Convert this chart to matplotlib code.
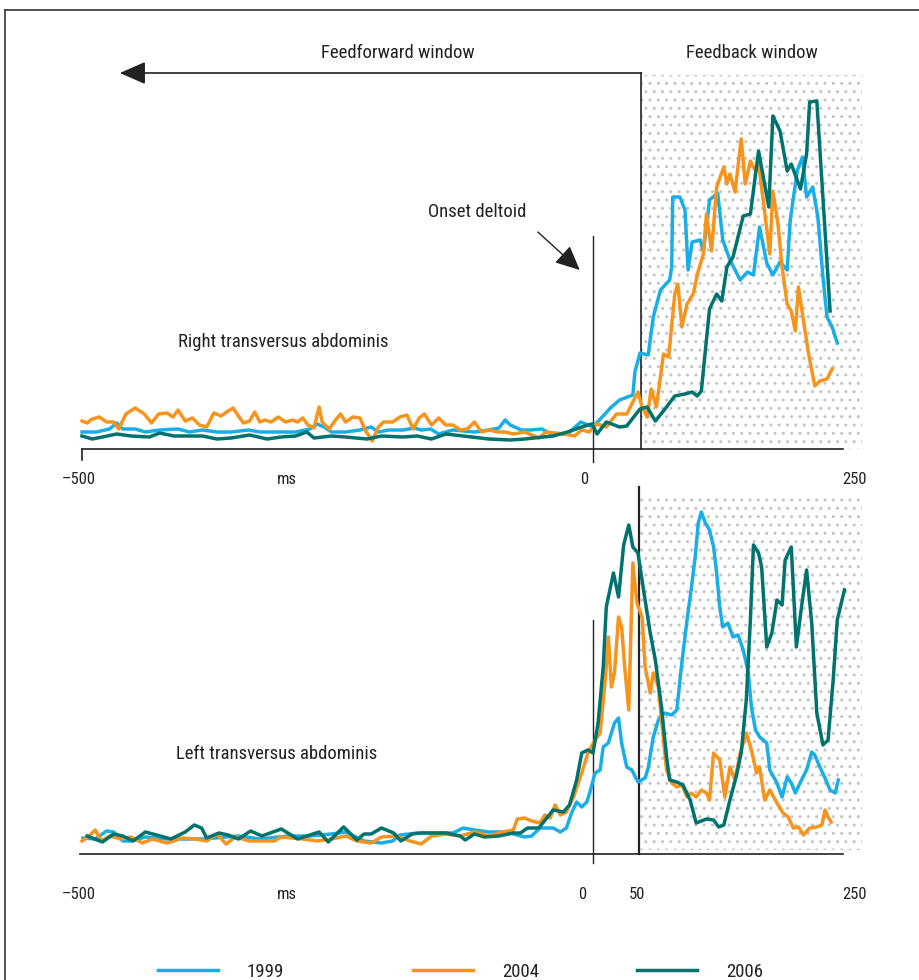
import numpy as np
import matplotlib.pyplot as plt
from matplotlib import font_manager as fm
from matplotlib.patches import Rectangle
from matplotlib.lines import Line2D


#===================================================#
# pick a narrow sans if one is installed
def pick_font():
    entries = fm.fontManager.ttflist
    names = {f.name for f in entries}
    for n in ['Liberation Sans Narrow', 'Roboto Condensed', 'Open Sans Condensed',
              'Noto Sans Condensed', 'DejaVu Sans Condensed']:
        if n in names:
            return n, 'normal', 1.0
    for f in entries:
        if f.name in ('Noto Sans', 'DejaVu Sans', 'Open Sans', 'Roboto') and \
                str(f.stretch) in ('condensed', 'semi-condensed'):
            return f.name, f.stretch, 0.9
    return 'Roboto', 'normal', 0.85


FONT, STRETCH, FSCALE = pick_font()
plt.rcParams['font.family'] = [FONT, 'DejaVu Sans']
plt.rcParams['font.stretch'] = STRETCH
#===================================================#

# EMG traces, time in ms relative to deltoid onset, amplitude in arbitrary units
years = ['1999', '2004', '2006']
colors = ['#1aaee8', '#f7941d', '#00736e']

# Right transversus abdominis (top panel)
right_1999_ms = [-500, -486, -473, -466, -460, -448, -438, -424, -406, -395,
                 -382, -368, -354, -337, -326, -306, -291, -277, -270, -263,
                 -256, -242, -228, -217, -210, -200, -186, -175, -168, -159,
                 -151, -137, -116, -102, -92, -86, -81, -70, -61, -50,
                 -43, -25, -12,
                 0, 17, 26, 39, 41, 46, 54, 59, 66, 75,
                 77, 78, 85, 90, 93, 97, 105, 108, 112, 114,
                 122, 127, 134, 144, 151, 157, 163, 170, 176, 183,
                 190, 193, 200, 205, 209, 215, 220, 225, 229, 234,
                 239]
right_1999_amp = [17, 17, 20, 26, 20, 20, 17, 19, 20, 17,
                  19, 17, 17, 19, 17, 17, 17, 20, 25, 22,
                  17, 17, 19, 22, 17, 19, 19, 21, 19, 20,
                  15, 19, 17, 19, 21, 29, 24, 19, 19, 20,
                  16, 15, 27,
                  22, 41, 49, 54, 77, 96, 94, 132, 159, 169,
                  182, 252, 252, 239, 179, 207, 209, 197, 231, 249,
                  256, 209, 189, 169, 177, 174, 222, 186, 174, 187,
                  179, 229, 279, 292, 252, 262, 232, 172, 132, 122,
                  106]

right_2004_ms = [-500, -495, -490, -483, -476, -469, -464, -457, -448, -439,
                 -432, -425, -417, -411, -406, -399, -392, -385, -378, -371,
                 -364, -357, -352, -347, -342, -336, -331, -326, -321, -315,
                 -308, -301, -294, -289, -284, -279, -273, -268, -265, -258,
                 -252, -247, -242, -235, -228, -223, -216, -210, -205, -196,
                 -189, -182, -176, -170, -165, -158, -151, -144, -137, -130,
                 -123, -116, -109, -102, -93, -86, -78, -67, -53, -46,
                 -39, -29, -18, -11, -4,
                 4, 13, 23, 33, 38, 44, 48, 53, 57, 62,
                 69, 74, 80, 83, 87, 92, 98, 103, 108, 111,
                 116, 121, 128, 131, 134, 139, 145, 149, 154, 159,
                 162, 167, 173, 176, 181, 185, 190, 194, 198, 201,
                 206, 211, 217, 222, 229, 234]
right_2004_amp = [28, 26, 30, 32, 27, 27, 20, 35, 41, 35,
                  26, 35, 36, 32, 39, 28, 31, 24, 22, 36,
                  33, 38, 41, 33, 26, 28, 37, 27, 29, 27,
                  32, 27, 29, 27, 31, 24, 21, 42, 27, 20,
                  29, 35, 27, 32, 31, 19, 8, 22, 27, 27,
                  32, 34, 20, 31, 35, 24, 31, 24, 24, 19,
                  20, 27, 17, 19, 17, 17, 15, 17, 11, 17,
                  16, 15, 13, 19, 17,
                  25, 22, 35, 35, 45, 57, 42, 32, 60, 42,
                  95, 92, 155, 165, 122, 145, 155, 178, 195, 235,
                  198, 262, 282, 265, 275, 257, 310, 265, 288, 278,
                  285, 245, 195, 258, 225, 182, 145, 138, 118, 162,
                  128, 95, 63, 68, 70, 80]

right_2006_ms = [-500, -490, -480, -466, -452, -434, -424, -410, -382, -368,
                 -354, -336, -319, -305, -291, -280, -273, -256, -242, -221,
                 -207, -186, -172, -158, -144, -127, -102, -81, -67, -39,
                 -25, -11, -1,
                 4, 13, 26, 33, 46, 53, 61, 72, 80, 90,
                 97, 102, 106, 114, 121, 126, 131, 137, 147, 154,
                 162, 172, 176, 183, 190, 194, 203, 209, 212, 219,
                 232]
right_2006_amp = [13, 10, 12, 15, 13, 12, 16, 13, 13, 10,
                  11, 14, 10, 12, 13, 17, 11, 13, 12, 10,
                  13, 12, 13, 10, 15, 13, 10, 9, 10, 13,
                  17, 22, 25,
                  15, 27, 22, 23, 40, 42, 28, 42, 53, 55,
                  57, 53, 58, 140, 155, 148, 182, 192, 233, 235,
                  298, 242, 333, 318, 278, 285, 260, 295, 347, 348,
                  138]

# Left transversus abdominis (bottom panel)
left_1999_ms = [-499, -487, -476, -469, -460, -452, -438, -417, -399, -382,
                -347, -326, -298, -277, -256, -242, -224, -207, -196, -189,
                -172, -137, -127, -116, -102, -85, -67, -60,
                -52, -39, -32, -26, -21, -16, -11, -6, -3, 2,
                7, 10, 15, 18, 21, 25, 28, 33, 38, 44,
                51, 54, 59, 64, 70, 77, 82, 87, 92, 96,
                100, 103, 106, 110, 114, 118, 121, 124, 127, 132,
                137, 142, 147, 152, 155, 159, 163, 170, 173, 180,
                185, 190, 194, 198, 204, 209, 214, 217, 222, 227,
                232, 237, 240]
left_1999_amp = [16, 15, 23, 22, 13, 13, 17, 15, 15, 15,
                 18, 15, 18, 18, 20, 22, 13, 11, 13, 19,
                 21, 21, 26, 24, 22, 22, 17, 18,
                 26, 26, 22, 26, 41, 52, 47, 52, 62, 81,
                 84, 107, 111, 121, 131, 136, 111, 87, 84, 72,
                 76, 86, 117, 134, 141, 139, 144, 192, 234, 264,
                 297, 331, 342, 331, 324, 307, 281, 247, 227, 231,
                 217, 219, 204, 181, 147, 124, 117, 111, 84, 71,
                 57, 77, 71, 61, 74, 84, 102, 99, 87, 76,
                 64, 61, 74]

left_2004_ms = [-500, -494, -487, -481, -473, -462, -452, -441, -431, -417,
                -410, -403, -389, -378, -368, -359, -350, -336, -326, -312,
                -305, -284, -270, -256, -242, -231, -217, -207, -193, -179,
                -168, -158, -144, -130, -116, -102, -88, -78, -74, -67,
                -60,
                -52, -47, -42, -37, -32, -26, -19, -11, -5, 2,
                7, 12, 15, 18, 21, 25, 28, 31, 35, 39,
                43, 48, 51, 56, 59, 64, 67, 72, 77, 82,
                87, 92, 96, 101, 106, 111, 114, 118, 124, 129,
                134, 139, 144, 150, 155, 160, 163, 168, 173, 180,
                186, 191, 196, 201, 206, 212, 219, 224, 227, 230,
                233]
left_2004_amp = [13, 17, 24, 13, 18, 15, 17, 11, 15, 11,
                 13, 16, 15, 13, 20, 10, 17, 13, 13, 13,
                 17, 15, 13, 15, 18, 13, 11, 17, 18, 13,
                 10, 18, 20, 18, 22, 18, 22, 24, 35, 36,
                 33,
                 31, 39, 36, 49, 39, 42, 57, 81, 101, 114,
                 121, 174, 217, 167, 181, 237, 227, 187, 144, 291,
                 251, 237, 187, 161, 181, 167, 134, 84, 71, 67,
                 69, 57, 61, 57, 64, 61, 54, 101, 94, 57,
                 87, 74, 101, 121, 104, 81, 87, 54, 64, 51,
                 41, 37, 26, 27, 19, 26, 27, 29, 44, 37,
                 32]

left_2006_ms = [-495, -480, -469, -460, -450, -438, -427, -413, -399, -390,
                -383, -378, -366, -357, -347, -335, -324, -305, -289, -277,
                -268, -259, -244, -231, -224, -217, -207, -195, -188, -177,
                -168, -144, -130, -125, -116, -106, -92, -78, -71, -64,
                -53,
                -39, -29, -23, -16, -11, -5, 0, 5, 10,
                13, 20, 25, 30, 35, 39, 44, 49, 56, 61,
                67, 72, 75, 82, 88, 95, 101, 111, 118, 123,
                128, 134, 140, 145, 150, 154, 157, 162, 165, 170,
                175, 180, 185, 188, 194, 199, 204, 209, 214, 219,
                225, 230, 235, 239, 246]
left_2006_amp = [18, 12, 20, 18, 13, 22, 19, 15, 22, 29,
                 26, 16, 21, 19, 15, 23, 18, 25, 15, 19,
                 22, 12, 27, 14, 20, 20, 26, 21, 13, 20,
                 21, 21, 18, 14, 20, 17, 18, 21, 21, 26,
                 26,
                 44, 42, 49, 74, 101, 104, 101, 131, 187,
                 247, 281, 257, 309, 329, 307, 301, 267, 221, 194,
                 147, 97, 74, 72, 69, 54, 31, 35, 34, 27,
                 29, 54, 77, 101, 154, 234, 309, 301, 287, 207,
                 221, 254, 249, 294, 307, 207, 247, 284, 231, 141,
                 109, 114, 174, 234, 264]
#===================================================#

W, H = 919, 980
MS_PER_PX = 1 / 1.022          # x scale of the drawing
X0_PX = 593                    # pixel of 0 ms
INK = '#222222'
LW = 2.5


def px_box(left, top, right, bottom):
    return [left / W, 1 - bottom / H, (right - left) / W, (bottom - top) / H]


def setup(ax, left, right, top, bottom, base):
    ax.set_position(px_box(left, top, right, bottom))
    ax.set_xlim((left - X0_PX) * MS_PER_PX, (right - X0_PX) * MS_PER_PX)
    ax.set_ylim(base - bottom, base - top)
    ax.axis('off')


fig = plt.figure(figsize=(W / 100, H / 100), dpi=100)
ax1 = fig.add_axes([0, 0, 1, 1])
ax2 = fig.add_axes([0, 0, 1, 1])
setup(ax1, 60, 870, 40, 470, 449)
setup(ax2, 60, 870, 480, 870, 854)

# outer frame (cut by the page edge)
fig.add_artist(Line2D([5 / W, 5 / W], [0, 1 - 10 / H], color='#333333', lw=1.2))
fig.add_artist(Line2D([5 / W, 1], [1 - 10 / H, 1 - 10 / H], color='#333333', lw=1.2))

AX_START, AX_END = -500, 245
fs_txt = 13.5 * FSCALE
fs_tick = 12 * FSCALE
fs_leg = 13.5 * FSCALE

# ---------------- top panel ----------------
ax = ax1
ax.add_patch(Rectangle((47, 0), 216, 374, facecolor='white', edgecolor='#c4c4c4',
                       lw=0, hatch='..', zorder=0))
ax.plot([AX_START, AX_END], [0, 0], color=INK, lw=1.2, clip_on=False)
ax.plot([-500, -500], [0, -11], color=INK, lw=1.2, clip_on=False)
ax.plot([0, 0], [-13, 213], color=INK, lw=1.0, clip_on=False)
ax.plot([47, 47], [0, 376], color=INK, lw=1.2, clip_on=False)
ax.annotate('', xy=(-463, 376), xytext=(47.5, 376),
            arrowprops=dict(arrowstyle='-|>,head_length=0.8,head_width=0.35',
                            mutation_scale=20, color=INK, lw=1.2,
                            shrinkA=0, shrinkB=0), annotation_clip=False)
ax.annotate('', xy=(-13, 179), xytext=(-54, 217),
            arrowprops=dict(arrowstyle='-|>,head_length=0.75,head_width=0.35',
                            mutation_scale=20, color=INK, lw=1.0,
                            shrinkA=0, shrinkB=0), annotation_clip=False)

for yr, c, t, a in zip(years, colors,
                       [right_1999_ms, right_2004_ms, right_2006_ms],
                       [right_1999_amp, right_2004_amp, right_2006_amp]):
    ax.plot(t, a, color=c, lw=LW, zorder=3, clip_on=False)

ax.text(-191, 396, 'Feedforward window', fontsize=fs_txt, ha='center', va='center', color=INK)
ax.text(155, 396, 'Feedback window', fontsize=fs_txt, ha='center', va='center', color=INK)
ax.text(-113, 237, 'Onset deltoid', fontsize=fs_txt, ha='center', va='center', color=INK)
ax.text(-406, 107, 'Right transversus abdominis', fontsize=fs_txt, ha='left', va='center', color=INK)
for lab, x in [('\u2013500', -503), ('ms', -300), ('0', -9), ('250', 256)]:
    ax.text(x, -31, lab, fontsize=fs_tick, ha='center', va='center', color=INK, clip_on=False)

# ---------------- bottom panel ----------------
ax = ax2
ax.add_patch(Rectangle((46, 4), 217, 357, facecolor='white', edgecolor='#c4c4c4',
                       lw=0, hatch='..', zorder=0))
ax.plot([-502, AX_END], [0, 0], color=INK, lw=1.2, clip_on=False)
ax.plot([0, 0], [-9, 234], color=INK, lw=1.0, clip_on=False)
ax.plot([45, 45], [0, 367], color=INK, lw=1.6, clip_on=False)

for yr, c, t, a in zip(years, colors,
                       [left_1999_ms, left_2004_ms, left_2006_ms],
                       [left_1999_amp, left_2004_amp, left_2006_amp]):
    ax.plot(t, a, color=c, lw=LW, zorder=3, clip_on=False, label=yr)

ax.text(-408, 100, 'Left transversus abdominis', fontsize=fs_txt, ha='left', va='center', color=INK)
for lab, x in [('\u2013500', -503), ('ms', -300), ('0', -11), ('50', 43), ('250', 256)]:
    ax.text(x, -40, lab, fontsize=fs_tick, ha='center', va='center', color=INK, clip_on=False)

# legend: one entry per year, placed along the bottom edge
handles, labels = ax2.get_legend_handles_labels()
leg_x = [158, 413, 637]
fs_px = fs_leg * 100 / 72
for h, lab, x in zip(handles, labels, leg_x):
    lg = fig.legend([h], [lab], loc='center left', bbox_to_anchor=(x / W, 1 - 972 / H),
                    frameon=False, fontsize=fs_leg, borderpad=0, borderaxespad=0,
                    handlelength=60 / fs_px, handletextpad=29 / fs_px)
    for txt in lg.get_texts():
        txt.set_color(INK)

fig.savefig('out.png', dpi=100)
